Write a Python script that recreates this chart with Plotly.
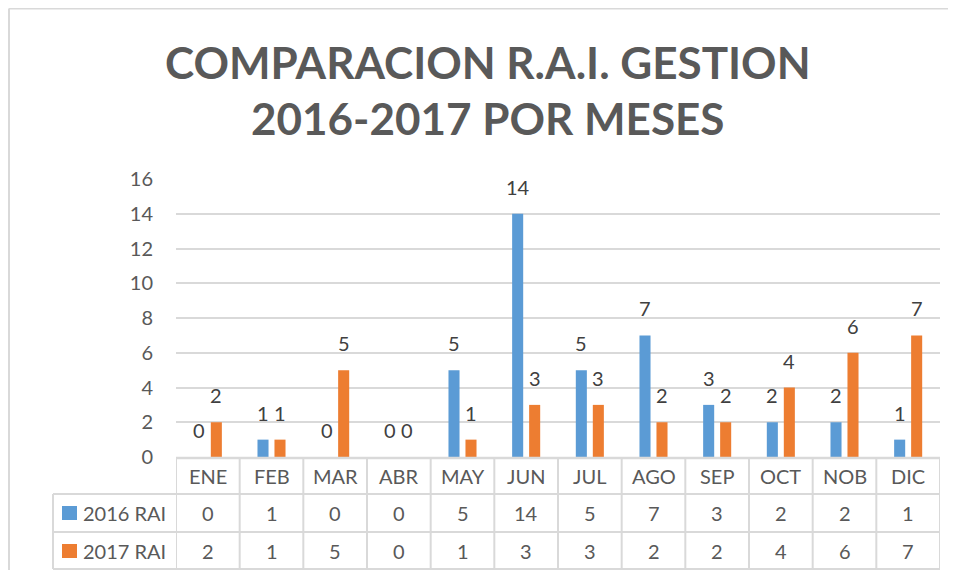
import plotly.graph_objects as go

months = ["ENE", "FEB", "MAR", "ABR", "MAY", "JUN", "JUL", "AGO", "SEP", "OCT", "NOB", "DIC"]
rai_2016 = [0, 1, 0, 0, 5, 14, 5, 7, 3, 2, 2, 1]
rai_2017 = [2, 1, 5, 0, 1, 3, 3, 2, 2, 4, 6, 7]
series_names = ["2016 RAI", "2017 RAI"]
y_ticks = [0, 2, 4, 6, 8, 10, 12, 14, 16]
title_lines = ["COMPARACION R.A.I. GESTION", "2016-2017 POR MESES"]

BLUE = "#5B9BD5"
ORANGE = "#ED7D31"
GRID = "#d9d9d9"
TXT = "#595959"
LBL = "#404040"
FONT = "Lato, 'Open Sans', sans-serif"

OFF = 8  # page body margin
W, H = 956 - 2 * OFF, 578 - 2 * OFF
# plot area in screen pixels: x 176..940, y 179..457
L, T = 176 - OFF, 179 - OFF
R = (W + OFF) - 940
B = (H + OFF) - 457
pw = W - L - R
ph = H - T - B


def px_x(sx):
    return (sx - OFF - L) / pw


def px_y(sy):
    return (H - B - (sy - OFF)) / ph


fig = go.Figure()
fig.add_trace(go.Bar(x=months, y=rai_2016, name=series_names[0], marker=dict(color=BLUE, line=dict(width=0))))
fig.add_trace(go.Bar(x=months, y=rai_2017, name=series_names[1], marker=dict(color=ORANGE, line=dict(width=0))))

annotations = []
# title
for line, sy in zip(title_lines, (62, 118)):
    annotations.append(dict(x=px_x(487.5), y=px_y(sy), xref="paper", yref="paper", text="<b>%s</b>" % line,
                            showarrow=False, xanchor="center", yanchor="middle",
                            font=dict(family=FONT, size=44, color=TXT)))
# data labels
for vals, shift in ((rai_2016, -8.5), (rai_2017, 8.5)):
    for m, v in zip(months, vals):
        annotations.append(dict(x=m, y=v, xref="x", yref="y", text=str(v), showarrow=False,
                                xshift=shift, yshift=13, yanchor="bottom",
                                font=dict(family=FONT, size=20, color=LBL)))

# data table
row_y = [px_y(476), px_y(513), px_y(551)]
for m in months:
    annotations.append(dict(x=m, y=row_y[0], xref="x", yref="paper", text=m, showarrow=False,
                            yanchor="middle", font=dict(family=FONT, size=20, color=TXT)))
for vals, ry in ((rai_2016, row_y[1]), (rai_2017, row_y[2])):
    for m, v in zip(months, vals):
        annotations.append(dict(x=m, y=ry, xref="x", yref="paper", text=str(v), showarrow=False,
                                yanchor="middle", font=dict(family=FONT, size=20, color=TXT)))
for name, ry in zip(series_names, row_y[1:]):
    annotations.append(dict(x=px_x(81), y=ry, xref="paper", yref="paper", text=name, showarrow=False,
                            xanchor="left", yanchor="middle", font=dict(family=FONT, size=20, color=TXT)))

shapes = []
# outer chart border (left and top edges)
shapes.append(dict(type="line", xref="paper", yref="paper", x0=px_x(9), x1=px_x(958), y0=px_y(580), y1=px_y(580),
                   line=dict(color="rgba(0,0,0,0)", width=0)))
shapes.append(dict(type="line", xref="paper", yref="paper", x0=px_x(9), x1=px_x(9), y0=px_y(580), y1=px_y(8.5),
                   line=dict(color=GRID, width=2)))
shapes.append(dict(type="line", xref="paper", yref="paper", x0=px_x(9), x1=px_x(958), y0=px_y(8.5), y1=px_y(8.5),
                   line=dict(color=GRID, width=2)))
# table horizontal lines
shapes.append(dict(type="line", xref="paper", yref="paper", x0=0, x1=1, y0=px_y(458), y1=px_y(458),
                   line=dict(color=GRID, width=2.5)))
for sy in (494, 532, 569):
    shapes.append(dict(type="line", xref="paper", yref="paper", x0=px_x(53), x1=1, y0=px_y(sy), y1=px_y(sy),
                       line=dict(color=GRID, width=2)))
# table vertical lines
shapes.append(dict(type="line", xref="paper", yref="paper", x0=px_x(53), x1=px_x(53), y0=px_y(494), y1=px_y(569),
                   line=dict(color=GRID, width=2)))
for i in range(len(months) + 1):
    shapes.append(dict(type="line", xref="x", yref="paper", x0=i - 0.5, x1=i - 0.5, y0=px_y(458), y1=px_y(569),
                       line=dict(color=GRID, width=2)))
# legend keys
for col, sy in ((BLUE, 513), (ORANGE, 551)):
    shapes.append(dict(type="rect", xref="paper", yref="paper", x0=px_x(62), x1=px_x(77), y0=px_y(sy + 7), y1=px_y(sy - 7),
                       line=dict(width=0), fillcolor=col))

fig.update_layout(
    width=W, height=H,
    margin=dict(l=L, r=R, t=T, b=B),
    paper_bgcolor="white", plot_bgcolor="white",
    showlegend=False,
    barmode="group", bargap=0.466, bargroupgap=0.35,
    xaxis=dict(showticklabels=False, showgrid=False, zeroline=False, showline=False, ticks="",
               range=[-0.5, len(months) - 0.5]),
    yaxis=dict(range=[0, 16], tickvals=y_ticks, showgrid=True, gridcolor=GRID, gridwidth=1.5,
               zeroline=False, showline=False, ticks="", ticklabelstandoff=22,
               tickfont=dict(family=FONT, size=20, color=TXT)),
    annotations=annotations,
    shapes=shapes,
)

fig.write_html("out.html")
